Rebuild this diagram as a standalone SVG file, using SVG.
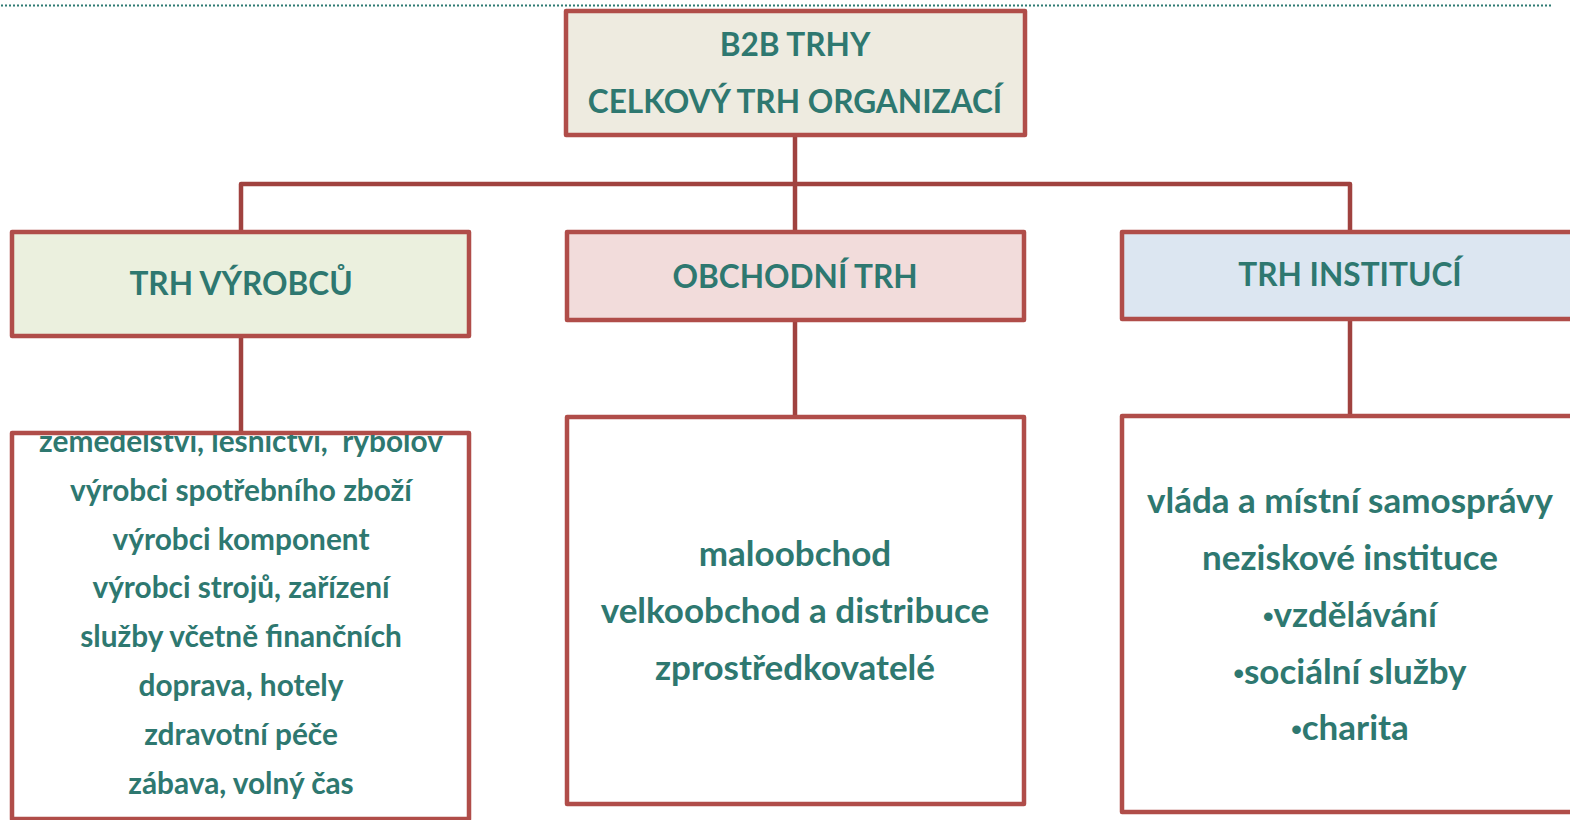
<svg xmlns="http://www.w3.org/2000/svg" width="1570" height="820" viewBox="0 0 1570 820">
<defs>
<style>
.box{stroke:#b04d49;stroke-width:4.5;stroke-linejoin:round}
.conn{fill:none;stroke:#a0423f;stroke-width:4.5;stroke-linejoin:round}
text{font-family:Lato,"Open Sans","Liberation Sans",sans-serif;font-weight:bold;fill:#2e7870;text-anchor:middle}
.h{font-size:31.6px}
.l{font-size:29.8px}
.m{font-size:35px}
.b{font-family:"Liberation Sans",sans-serif;font-size:30px}
</style>
<clipPath id="clipLeft"><rect x="14" y="435" width="454" height="390"/></clipPath>
</defs>
<rect width="1570" height="820" fill="#ffffff"/>
<line x1="1" y1="5.5" x2="1552" y2="5.5" stroke="#2e7b73" stroke-width="2.2" stroke-dasharray="2 2"/>
<g id="connectors">
<path class="conn" d="M795 136 V232"/>
<path class="conn" d="M241 232 V184 H1350 V232"/>
<path class="conn" d="M241 336 V432"/>
<path class="conn" d="M795 320 V416"/>
<path class="conn" d="M1350 319 V415"/>
</g>
<g id="root">
<rect class="box" x="566" y="11" width="459" height="124" fill="#eeebe0"/>
<text class="h" x="795" y="55.5">B2B TRHY</text>
<text class="h" x="795" y="112.5">CELKOVÝ TRH ORGANIZACÍ</text>
</g>
<g id="vyrobcu">
<rect class="box" x="12" y="232" width="457" height="104" fill="#ebf0de"/>
<text class="h" x="241" y="295">TRH VÝROBCŮ</text>
</g>
<g id="obchodni">
<rect class="box" x="567" y="232" width="457" height="88" fill="#f2dcdb"/>
<text class="h" x="795" y="287.5">OBCHODNÍ TRH</text>
</g>
<g id="instituci">
<rect class="box" x="1122" y="232" width="470" height="87" fill="#dce6f1"/>
<text class="h" x="1350" y="285.5">TRH INSTITUCÍ</text>
</g>
<g id="vyrobcu-list">
<rect class="box" x="12" y="433" width="457" height="386" fill="#ffffff"/>
<g clip-path="url(#clipLeft)">
<text class="l" x="241" y="452" xml:space="preserve">zemědělství, lesnictví,  rybolov</text>
<text class="l" x="241" y="501">výrobci spotřebního zboží</text>
<text class="l" x="241" y="549.5">výrobci komponent</text>
<text class="l" x="241" y="598">výrobci strojů, zařízení</text>
<text class="l" x="241" y="647">služby včetně finančních</text>
<text class="l" x="241" y="696">doprava, hotely</text>
<text class="l" x="241" y="745">zdravotní péče</text>
<text class="l" x="241" y="794">zábava, volný čas</text>
</g>
</g>
<g id="obchodni-list">
<rect class="box" x="567" y="417" width="457" height="387" fill="#ffffff"/>
<text class="m" x="795" y="565.5">maloobchod</text>
<text class="m" x="795" y="622.5">velkoobchod a distribuce</text>
<text class="m" x="795" y="679.5">zprostředkovatelé</text>
</g>
<g id="instituci-list">
<rect class="box" x="1122" y="416" width="470" height="396" fill="#ffffff"/>
<text class="m" x="1350" y="512.5">vláda a místní samosprávy</text>
<text class="m" x="1350" y="569.5">neziskové instituce</text>
<text class="m" x="1350" y="626.5"><tspan class="b">•</tspan>vzdělávání</text>
<text class="m" x="1350" y="683.5"><tspan class="b">•</tspan>sociální služby</text>
<text class="m" x="1350" y="740"><tspan class="b">•</tspan>charita</text>
</g>
</svg>
